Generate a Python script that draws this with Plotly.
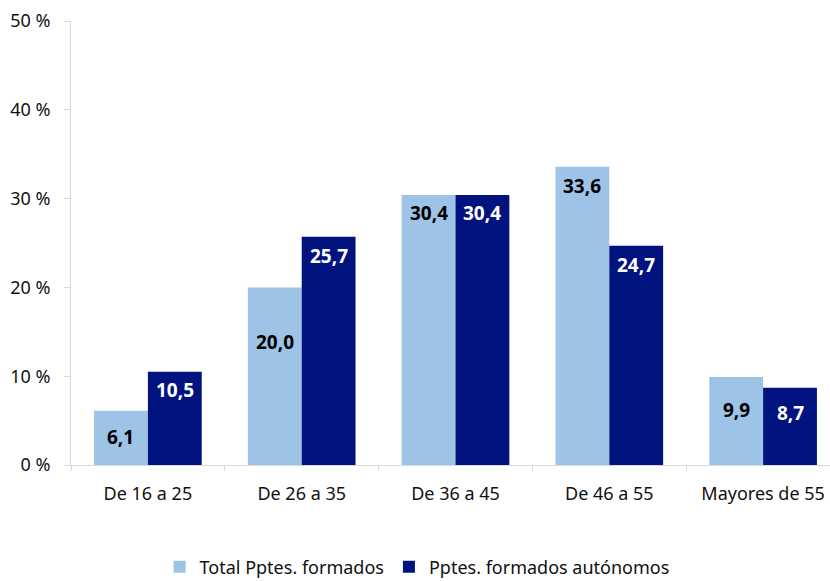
import plotly.graph_objects as go

categories = ["De 16 a 25", "De 26 a 35", "De 36 a 45", "De 46 a 55", "Mayores de 55"]
total_formados = [6.1, 20.0, 30.4, 33.6, 9.9]
autonomos = [10.5, 25.7, 30.4, 24.7, 8.7]
series_names = ["Total Pptes. formados", "Pptes. formados autónomos"]

# label shift below bar top (px), as in the original chart
shift_total = [-26, -55, -18, -19, -33]
shift_auto = [-18, -19, -18, -19, -25]

light = "#9DC3E6"
dark = "#00137F"

fig = go.Figure()
fig.add_trace(go.Bar(x=categories, y=total_formados, name=series_names[0],
                     marker=dict(color=light, line=dict(width=0))))
fig.add_trace(go.Bar(x=categories, y=autonomos, name=series_names[1],
                     marker=dict(color=dark, line=dict(width=0))))

def fmt(v):
    return f"{v:.1f}".replace(".", ",")

for i, cat in enumerate(categories):
    fig.add_annotation(x=i - 0.175, y=total_formados[i], yshift=shift_total[i],
                       text="<b>" + fmt(total_formados[i]) + "</b>", showarrow=False,
                       font=dict(color="black", size=19), xref="x", yref="y")
    fig.add_annotation(x=i + 0.175, y=autonomos[i], yshift=shift_auto[i],
                       text="<b>" + fmt(autonomos[i]) + "</b>", showarrow=False,
                       font=dict(color="white", size=19), xref="x", yref="y")

fig.update_layout(
    width=830, height=581,
    margin=dict(l=71, r=0, t=21, b=116, autoexpand=False),
    plot_bgcolor="white", paper_bgcolor="white",
    barmode="group", bargap=0.3, bargroupgap=0,
    font=dict(family="Noto Sans", size=18, color="#111111"),
    showlegend=True,
    legend=dict(orientation="h", x=0.456, xanchor="center", y=-0.188, yanchor="top",
                font=dict(size=18), itemwidth=30, traceorder="normal"),
    xaxis=dict(range=[-0.5, 4.435], showline=True, linecolor="#D9D9D9", linewidth=1,
               ticks="outside", tickson="boundaries", ticklen=5, tickcolor="#D9D9D9",
               showgrid=False, tickfont=dict(size=18), automargin=False,
               ticklabelstandoff=12),
    yaxis=dict(range=[0, 50], dtick=10, ticksuffix=" %", showline=True,
               linecolor="#D9D9D9", linewidth=1, ticks="outside", ticklen=6,
               tickcolor="#D9D9D9", showgrid=False, zeroline=False,
               tickfont=dict(size=18), automargin=False, ticklabelstandoff=10),
)

# the page's default body margin would shift the chart by 8px
fig.write_html("out.html", config={"displayModeBar": False},
               post_script="document.body.style.margin='0';")
